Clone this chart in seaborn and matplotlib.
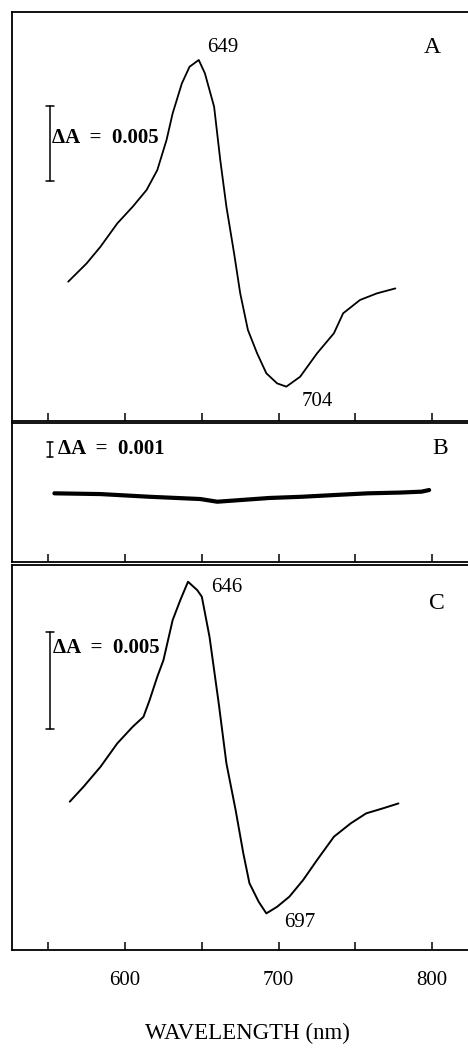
import matplotlib
matplotlib.use("Agg")
import matplotlib.pyplot as plt
import seaborn as sns

# spectra, dA in units of 1e-3
wl_a = [563, 575, 584, 595, 605, 614, 621, 627, 631, 637, 642, 648, 652, 658, 662,
        666, 671, 675, 680, 686, 692, 699, 705, 714, 725, 736, 742, 753, 764, 776]
dA_a = [9.29, 10.51, 11.62, 13.18, 14.29, 15.40, 16.73, 18.73, 20.51, 22.51, 23.62,
        24.07, 23.18, 20.95, 17.40, 14.29, 11.18, 8.51, 6.07, 4.51, 3.18, 2.51, 2.29,
        2.95, 4.51, 5.85, 7.18, 8.07, 8.51, 8.84]

wl_b = [554, 584, 616, 649, 660, 675, 694, 715, 737, 758, 779, 793, 798]
dA_b = [4.58, 4.53, 4.35, 4.20, 4.02, 4.13, 4.27, 4.35, 4.47, 4.58, 4.63, 4.69, 4.80]

wl_c = [564, 573, 584, 595, 605, 612, 616, 621, 625, 628, 631, 636, 641, 647, 650,
        655, 661, 666, 672, 677, 681, 687, 692, 699, 707, 716, 725, 736, 747, 757, 768, 778]
dA_c = [7.62, 8.39, 9.41, 10.62, 11.47, 11.98, 12.84, 14.04, 14.89, 15.92, 16.95,
        17.98, 18.92, 18.49, 18.15, 16.09, 12.67, 9.59, 7.19, 4.97, 3.43, 2.48, 1.88,
        2.22, 2.74, 3.60, 4.62, 5.82, 6.51, 7.02, 7.28, 7.53]

xticks = [550, 600, 650, 700, 750, 800]
xticklabels = ["", "600", "", "700", "", "800"]

sns.set_style("ticks")
plt.rcParams['font.family'] = ['Liberation Serif', 'DejaVu Serif']
plt.rcParams['text.color'] = 'black'
plt.rcParams['xtick.color'] = 'black'
plt.rcParams['axes.labelcolor'] = 'black'

W, H = 468, 1048
fig = plt.figure(figsize=(W / 100, H / 100), dpi=100)


def make_ax(top_px, bottom_px):
    return fig.add_axes([12 / W, 1 - bottom_px / H, 456 / W, (bottom_px - top_px) / H])


ax_a = make_ax(12, 421)
ax_b = make_ax(423, 562)
ax_c = make_ax(565, 950)

sns.lineplot(x=wl_a, y=dA_a, ax=ax_a, color="black", linewidth=1.3)
sns.lineplot(x=wl_b, y=dA_b, ax=ax_b, color="black", linewidth=3.0)
sns.lineplot(x=wl_c, y=dA_c, ax=ax_c, color="black", linewidth=1.4)

ax_a.set_ylim(0, 27.27)
ax_b.set_ylim(0, 9.27)
ax_c.set_ylim(0, 19.78)

for ax in (ax_a, ax_b, ax_c):
    ax.set_xlim(526.4, 823.3)
    ax.set_xticks(xticks)
    ax.set_xticklabels([])
    ax.set_yticks([])
    ax.set_ylabel("")
    ax.spines["right"].set_visible(False)
    for s in ("left", "top", "bottom"):
        ax.spines[s].set_linewidth(1.3)
        ax.spines[s].set_color("black")
    ax.tick_params(axis="x", direction="in", length=5.5, width=1.1, color="black")

ax_c.set_xticklabels(xticklabels, fontsize=15, color="black")
ax_c.tick_params(axis="x", pad=15)


def scale_bar(ax, x, y0, y1, cap=2.5):
    ax.plot([x, x], [y0, y1], color="black", lw=1.1)
    ax.plot([x - cap, x + cap], [y0, y0], color="black", lw=1.1)
    ax.plot([x - cap, x + cap], [y1, y1], color="black", lw=1.1)


# panel A
scale_bar(ax_a, 551.2, 16.0, 21.0)
ax_a.text(552.5, 18.87, "ΔA  =  0.005", fontsize=15, fontweight="bold", va="center", ha="left")
ax_a.text(663.8, 24.9, "649", fontsize=15, ha="center", va="center")
ax_a.text(725, 1.27, "704", fontsize=15, ha="center", va="center")
ax_a.text(800, 24.9, "A", fontsize=17, ha="center", va="center")

# panel B
scale_bar(ax_b, 551.2, 7.02, 8.02, cap=2.0)
ax_b.text(556.5, 7.55, "ΔA  =  0.001", fontsize=15, fontweight="bold", va="center", ha="left")
ax_b.text(805, 7.58, "B", fontsize=17, ha="center", va="center")

# panel C
scale_bar(ax_c, 551.2, 11.35, 16.33)
ax_c.text(553, 15.5, "ΔA  =  0.005", fontsize=15, fontweight="bold", va="center", ha="left")
ax_c.text(666.4, 18.64, "646", fontsize=15, ha="center", va="center")
ax_c.text(714, 1.39, "697", fontsize=15, ha="center", va="center")
ax_c.text(803.3, 17.82, "C", fontsize=17, ha="center", va="center")

fig.text(247 / W, 1 - 1033 / H, "WAVELENGTH (nm)", fontsize=16.5, ha="center", va="center")

fig.savefig("out.png", dpi=100, facecolor="white")
